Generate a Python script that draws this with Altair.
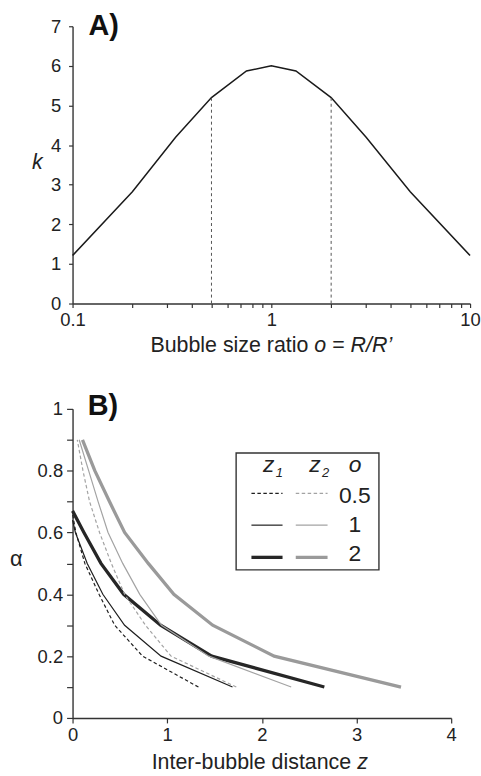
import altair as alt
import pandas as pd

FONT = "Liberation Sans"
AX = "#333333"
TXT = "#222222"

# ---------------- Panel A data ----------------
ratio_o = [0.1, 0.2, 0.33, 0.5, 0.75, 1.0, 1.33, 2.0, 3.0, 5.0, 10.0]
k_vals = [1.21, 2.82, 4.2, 5.2, 5.87, 6.0, 5.87, 5.2, 4.2, 2.82, 1.21]
marker_o = [0.5, 2.0]
marker_k = [5.2, 5.2]
a_xticks = [0.1, 0.2, 0.3, 0.4, 0.5, 0.6, 0.7, 0.8, 0.9, 1, 2, 3, 4, 5, 6, 7, 8, 9, 10]
a_yticks = [0, 1, 2, 3, 4, 5, 6, 7]

# ---------------- Panel B data ----------------
alpha_z1 = [0.1, 0.2, 0.3, 0.4, 0.5, 0.6]
z1_o05 = [1.33, 0.74, 0.445, 0.28, 0.13, 0.035]
z1_o05_start = 0.66
z1_o1 = [1.69, 0.935, 0.55, 0.32, 0.155, 0.03]
z1_o1_start = 0.64
z1_o2 = [2.66, 1.47, 0.93, 0.54, 0.30, 0.12]
z1_o2_start = 0.67

alpha_z2 = [0.1, 0.2, 0.3, 0.4, 0.5, 0.6, 0.7, 0.8, 0.9]
z2_o05 = [1.73, 1.04, 0.77, 0.55, 0.41, 0.285, 0.18, 0.11, 0.05]
z2_o1 = [2.31, 1.44, 0.94, 0.71, 0.53, 0.375, 0.27, 0.17, 0.07]
z2_o2 = [3.47, 2.13, 1.48, 1.07, 0.80, 0.55, 0.39, 0.235, 0.105]

b_xticks = [0, 1, 2, 3, 4]
b_yticks = [0, 0.1, 0.2, 0.3, 0.4, 0.5, 0.6, 0.7, 0.8, 0.9, 1.0]

series_names = ["z1_0.5", "z1_1", "z1_2", "z2_0.5", "z2_1", "z2_2"]
series_colors = ["#1e1e1e", "#1e1e1e", "#262626", "#a3a3a3", "#a3a3a3", "#9a9a9a"]
series_widths = [1.2, 1.2, 3.3, 1.2, 1.2, 3.3]
series_dash = [[3.5, 2.5], None, None, [3.5, 2.5], None, None]

TICK_FS = 18.5
TITLE_FS = 21.5

one = alt.Data(values=[{"a": 1}])


def txt(text, x, y, size, style="normal", weight="normal", align="center", color=TXT):
    return alt.Chart(one).mark_text(text=text, fontSize=size, fontStyle=style, fontWeight=weight,
                                    align=align, baseline="alphabetic", font=FONT, color=color).encode(
        x=alt.value(x), y=alt.value(y))


def rule(x1, x2, y, color, width, dash=None):
    kw = dict(color=color, strokeWidth=width)
    if dash:
        kw["strokeDash"] = dash
    return alt.Chart(one).mark_rule(**kw).encode(x=alt.value(x1), x2=alt.value(x2), y=alt.value(y))


# ---------------- Panel A ----------------
dfA = pd.DataFrame({"o": ratio_o, "k": k_vals})
dfM = pd.DataFrame({"o": marker_o, "k": marker_k})

scaleAx = alt.Scale(type="log", domain=[0.1, 10], nice=False)
scaleAy = alt.Scale(domain=[0, 7], nice=False)
axisAx = alt.Axis(values=a_xticks, format=".1~f",
                  labelExpr="(datum.value == 0.1 || datum.value == 1 || datum.value == 10) ? datum.label : ''",
                  title="", tickSize=4, labelPadding=3, labelFlush=False, labelOverlap=False)
axisAy = alt.Axis(values=a_yticks, format="d", title="k", titleAngle=0, titleFontStyle="italic",
                  titleX=-36, titleY=143, titleAlign="center", titleBaseline="alphabetic",
                  tickSize=4, labelPadding=8, labelOverlap=False)

lineA = alt.Chart(dfA).mark_line(color="#1a1a1a", strokeWidth=1.5).encode(
    x=alt.X("o:Q", scale=scaleAx, axis=axisAx),
    y=alt.Y("k:Q", scale=scaleAy, axis=axisAy))
vl = alt.Chart(dfM).transform_calculate(k0="0").mark_rule(
    color="#555555", strokeWidth=1, strokeDash=[3, 3]).encode(
    x=alt.X("o:Q", scale=scaleAx, axis=axisAx),
    y=alt.Y("k0:Q", scale=scaleAy, axis=axisAy),
    y2="k:Q")

a_title_base = 327.5
a_title = [
    txt("Bubble size ratio", 78.4, a_title_base, TITLE_FS, align="left"),
    txt("o", 243.3, a_title_base, TITLE_FS, style="italic", align="left"),
    txt("=", 261.3, a_title_base, TITLE_FS, align="left"),
    txt("R/R\u2019", 279.8, a_title_base, TITLE_FS, style="italic", align="left"),
]

labA = txt("A)", 16, 9, 29, weight="bold", align="left", color="#111111")
panelA = alt.layer(lineA, vl, *a_title, labA).properties(width=400, height=279)

# ---------------- Panel B ----------------
rows = []
for name, zs, start in [("z1_0.5", z1_o05, z1_o05_start), ("z1_1", z1_o1, z1_o1_start), ("z1_2", z1_o2, z1_o2_start)]:
    for i, (z, a) in enumerate(zip(zs, alpha_z1)):
        rows.append({"series": name, "z": z, "alpha": a, "ord": i})
    rows.append({"series": name, "z": 0.0, "alpha": start, "ord": len(zs)})
for name, zs in [("z2_0.5", z2_o05), ("z2_1", z2_o1), ("z2_2", z2_o2)]:
    for i, (z, a) in enumerate(zip(zs, alpha_z2)):
        rows.append({"series": name, "z": z, "alpha": a, "ord": i})
dfB = pd.DataFrame(rows)

xB = alt.X("z:Q", scale=alt.Scale(domain=[0, 4], nice=False),
           axis=alt.Axis(values=b_xticks, title="", tickSize=5, labelPadding=3, labelFlush=False))
yB = alt.Y("alpha:Q", scale=alt.Scale(domain=[0, 1], nice=False),
           axis=alt.Axis(values=b_yticks, format=".1~f",
                         labelExpr="round(datum.value * 10) % 2 == 0 ? datum.label : ''",
                         title="\u03b1", titleAngle=0, titleFontSize=22,
                         titleX=-57, titleY=158, titleAlign="center", titleBaseline="alphabetic",
                         tickSize=6, labelPadding=4, labelOverlap=False))

line_layers = []
for name, col, w, d in zip(series_names, series_colors, series_widths, series_dash):
    kw = dict(color=col, strokeWidth=w)
    if d:
        kw["strokeDash"] = d
    line_layers.append(
        alt.Chart(dfB).transform_filter(alt.datum.series == name).mark_line(**kw).encode(
            x=xB, y=yB, order="ord:Q"))

box = alt.Chart(one).mark_rect(fill="white", stroke="#333333", strokeWidth=1.4).encode(
    x=alt.value(164.6), x2=alt.value(308.3), y=alt.value(44.4), y2=alt.value(162))

leg_rows = [85, 117, 149.4]
leg_labels = ["0.5", "1", "2"]
leg_base = [94.6, 123.8, 153]
LEG_FS = 23
legend_layers = [box]
for i in range(3):
    legend_layers.append(rule(180, 211.3, leg_rows[i], series_colors[i], series_widths[i], series_dash[i]))
    legend_layers.append(rule(224.6, 256.6, leg_rows[i], series_colors[i + 3], series_widths[i + 3],
                              series_dash[i + 3]))
    legend_layers.append(txt(leg_labels[i], 284, leg_base[i], LEG_FS))
legend_layers += [
    txt("z", 197.3, 63.5, LEG_FS, style="italic"),
    txt("1", 208, 69, 13, style="italic"),
    txt("z", 244, 63.5, LEG_FS, style="italic"),
    txt("2", 254.5, 69, 13, style="italic"),
    txt("o", 284.3, 63.5, LEG_FS, style="italic"),
]

b_title_base = 362.7
b_title = [
    txt("Inter-bubble distance", 79.6, b_title_base, TITLE_FS, align="left"),
    txt("z", 286.4, b_title_base, TITLE_FS, style="italic", align="left"),
]

labB = txt("B)", 15.3, 6, 29, weight="bold", align="left", color="#111111")
panelB = alt.layer(*line_layers, *legend_layers, *b_title, labB).properties(width=381, height=311)

chart = alt.vconcat(panelA, panelB, spacing=36).properties(
    padding={"left": 9, "top": 10, "right": 0, "bottom": 0},
    background="white",
).configure_view(stroke=None).configure_axis(
    grid=False, domainColor=AX, domainWidth=1.4, tickColor=AX, tickWidth=1.2,
    labelColor=TXT, labelFont=FONT, labelFontSize=TICK_FS,
    titleColor=TXT, titleFont=FONT, titleFontSize=TITLE_FS, titleFontWeight="normal",
).configure_text(font=FONT)

chart.save("out.html", embed_options={"renderer": "svg", "actions": False})
